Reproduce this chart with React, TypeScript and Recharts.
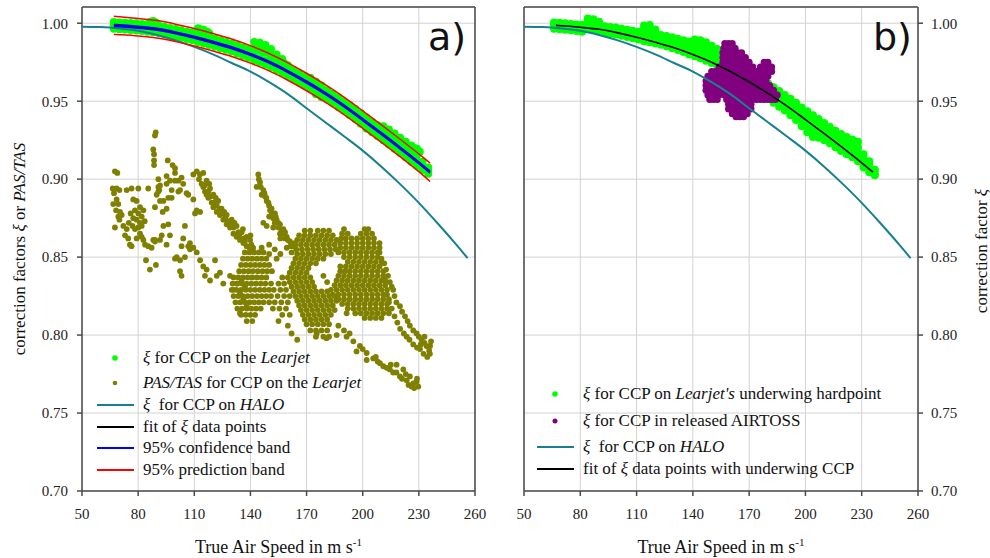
import React from 'react';
import { ComposedChart, Scatter, XAxis, YAxis, CartesianGrid } from 'recharts';

// axes
const tasTicks = [50, 80, 110, 140, 170, 200, 230, 260];
const xiTicks = [0.7, 0.75, 0.8, 0.85, 0.9, 0.95, 1.0];

// fit of xi data points (Learjet) + bands
const fitTas = [67, 70, 80, 90, 100, 110, 120, 130, 140, 150, 160, 170, 180, 190, 200, 210, 220, 230, 236];
const fitXi = [.9986, .9984, .9974, .9961, .9938, .9910, .9878, .9843, .9800, .9750, .9690, .9623, .9550, .9470, .9382, .9292, .9200, .9105, .9045];
const confUpper = [.9992, .9990, .9980, .9967, .9944, .9916, .9884, .9849, .9806, .9756, .9696, .9629, .9556, .9476, .9388, .9298, .9206, .9111, .9052];
const confLower = [.9980, .9978, .9968, .9955, .9932, .9904, .9872, .9837, .9794, .9744, .9684, .9617, .9544, .9464, .9376, .9286, .9194, .9099, .9038];
const predUpper = [1.0044, 1.0041, 1.0030, 1.0017, .9994, .9966, .9934, .9899, .9856, .9806, .9746, .9679, .9606, .9526, .9438, .9348, .9256, .9162, .9103];
const predLower = [.9928, .9926, .9918, .9905, .9882, .9854, .9822, .9787, .9744, .9694, .9634, .9567, .9494, .9414, .9326, .9236, .9144, .9048, .8985];

// xi for CCP on HALO
const haloTas = [50, 60, 70, 80, 90, 100, 110, 120, 130, 140, 150, 160, 170, 180, 190, 200, 210, 220, 230, 240, 250, 256];
const haloXi = [.9978, .9975, .9966, .9952, .9925, .9890, .9848, .9800, .9745, .9690, .9622, .9545, .9455, .9365, .9275, .9183, .9080, .8968, .8848, .8717, .8580, .8494];

// xi for CCP on the Learjet (panel a): [tas, values...]
const xiLearjetA: number[][] = [
  [67, 1.0008, .9986, .9965], [70, 1.0005, .9984, .9962], [73, 1.0003, .9981, .9960], [76, 1.0002, .9978, .9957],
  [79, 1.0000, .9975, .9953], [82, .9995, .9972, .9950], [85, .9993, .9968, .9945], [88, 1.0015, .9990, .9964, .9942],
  [91, .9985, .9959, .9937], [94, .9978, .9952, .9930], [97, .9970, .9945, .9922], [100, .9963, .9938, .9915],
  [103, .9955, .9930, .9907], [106, .9946, .9921, .9898], [109, .9940, .9913, .9890], [112, .9968, .9936, .9904, .9880],
  [115, .9958, .9926, .9894, .9870], [118, .9935, .9910, .9884, .9860], [121, .9902, .9875, .9850], [124, .9890, .9864, .9840],
  [127, .9880, .9854, .9830], [130, .9870, .9843, .9818], [133, .9858, .9830, .9805], [136, .9845, .9817, .9792],
  [139, .9835, .9804, .9778], [142, .9880, .9835, .9790, .9762], [145, .9875, .9825, .9775, .9748], [148, .9860, .9810, .9760, .9733],
  [151, .9835, .9790, .9744, .9717], [154, .9800, .9765, .9726, .9700], [157, .9770, .9740, .9708, .9680], [160, .9730, .9690, .9662],
  [163, .9700, .9670, .9642], [166, .9680, .9650, .9620], [169, .9660, .9630, .9600], [172, .9650, .9630, .9609, .9578],
  [175, .9625, .9587, .9545], [178, .9600, .9565, .9525], [181, .9572, .9542, .9510], [184, .9548, .9518, .9488],
  [187, .9525, .9494, .9462], [190, .9500, .9470, .9438], [193, .9475, .9444, .9412], [196, .9450, .9418, .9385],
  [199, .9422, .9391, .9355], [202, .9395, .9364, .9325], [205, .9368, .9337, .9300], [208, .9345, .9310, .9275],
  [211, .9340, .9312, .9283, .9250], [214, .9318, .9287, .9255, .9222], [217, .9292, .9260, .9228, .9195], [220, .9265, .9233, .9200, .9168],
  [223, .9240, .9206, .9172, .9140], [226, .9215, .9180, .9143, .9112], [229, .9195, .9155, .9114, .9085], [232, .9112, .9085, .9058],
  [235, .9075, .9055, .9035],
];
const xiLearjetAExtra: number[][] = [
  [86.5, 1.0010], [89.5, 1.0005], [114, .9960], [117, .9945], [144, .9860], [147, .9850], [150, .9825],
  [153, .9790], [155, .9765], [158, .9745], [230.5, .9175], [227.5, .9200],
];

// xi for CCP on Learjet's underwing hardpoint (panel b): [tas, values...]
const xiUnderwing: number[][] = [
  [66, 1.0005, .9985, .9965], [69, 1.0003, .9982, .9962], [72, 1.0000, .9978, .9958], [75, .9995, .9975, .9955],
  [78, .9992, .9972, .9950], [81, .9990, .9968, .9946], [84, 1.0030, 1.0005, .9985, .9965], [87, 1.0025, .9995, .9978, .9960],
  [90, 1.0010, .9975, .9952], [93, .9980, .9960, .9940], [96, .9975, .9955, .9933], [99, .9972, .9950, .9928],
  [102, .9965, .9942, .9920], [105, .9958, .9935, .9912], [108, .9952, .9928, .9903], [111, .9945, .9920, .9895],
  [114, .9985, .9965, .9950, .9920, .9885], [117, .9988, .9968, .9945, .9910, .9878], [120, .9960, .9940, .9920, .9895, .9870],
  [123, .9925, .9895, .9862], [126, .9918, .9885, .9852], [129, .9910, .9875, .9840], [132, .9900, .9865, .9828],
  [135, .9890, .9852, .9815], [138, .9882, .9840, .9800], [141, .9895, .9870, .9848, .9818, .9788],
  [144, .9890, .9865, .9840, .9808, .9775], [147, .9878, .9850, .9825, .9792, .9760], [150, .9855, .9828, .9800, .9772, .9745],
  [153, .9835, .9808, .9780, .9752, .9725], [156, .9815, .9785, .9755, .9730, .9705], [159, .9790, .9762, .9735, .9710, .9685],
  [162, .9765, .9738, .9712, .9686, .9660], [165, .9745, .9718, .9690, .9665, .9640], [168, .9720, .9692, .9665, .9640, .9615],
  [171, .9695, .9668, .9640, .9615, .9590], [174, .9670, .9642, .9615, .9590, .9565], [177, .9640, .9615, .9590, .9565, .9540],
  [180, .9615, .9588, .9560, .9538, .9515], [183, .9590, .9565, .9540, .9515, .9490], [186, .9565, .9540, .9515, .9490, .9465],
  [189, .9540, .9515, .9490, .9465, .9440], [192, .9515, .9490, .9465, .9438, .9410], [195, .9490, .9465, .9440, .9410, .9380],
  [198, .9460, .9435, .9410, .9375, .9340], [201, .9435, .9405, .9375, .9338, .9300], [204, .9410, .9380, .9350, .9310, .9270],
  [207, .9385, .9358, .9330, .9298, .9265], [210, .9360, .9332, .9305, .9278, .9250], [213, .9335, .9308, .9280, .9255, .9230],
  [216, .9310, .9282, .9255, .9230, .9205], [219, .9290, .9260, .9230, .9205, .9180], [222, .9270, .9240, .9210, .9185, .9160],
  [225, .9255, .9222, .9190, .9165, .9140], [228, .9240, .9205, .9170, .9142, .9115], [231, .9160, .9135, .9110, .9092, .9075],
  [234, .9115, .9095, .9075, .9060, .9045], [237, .9060, .9040, .9025],
];

// xi for CCP in released AIRTOSS: rows of [xi, tas values]
const xiAirtoss: [number, number[]][] = [
  [.987, [157, 159, 161]],
  [.984, [156.5, 158.5, 160.5, 162.5]],
  [.981, [156, 158, 160, 162, 164, 166]],
  [.978, [156, 158, 160, 162, 164, 166, 168]],
  [.975, [156, 158, 160, 162, 164, 166, 168, 170, 178, 180]],
  [.972, [154, 156, 158, 160, 162, 164, 166, 168, 170, 172, 176, 178, 180, 182]],
  [.969, [150, 152, 154, 156, 158, 160, 162, 164, 166, 168, 170, 172, 174, 176, 178, 180, 182]],
  [.966, [148, 150, 152, 154, 156, 158, 160, 162, 164, 166, 168, 170, 172, 174, 176, 178, 180]],
  [.963, [147, 149, 151, 153, 155, 157, 159, 161, 163, 165, 167, 169, 171, 173, 175, 177, 179]],
  [.960, [147, 149, 151, 153, 155, 157, 159, 161, 163, 165, 167, 169, 171, 173, 175, 177, 179, 181]],
  [.957, [147, 149, 151, 153, 155, 157, 159, 161, 163, 165, 167, 169, 171, 173, 175, 177, 179, 181, 183]],
  [.954, [148, 150, 152, 154, 157, 159, 161, 163, 165, 167, 169, 171, 173, 175, 177, 179, 181, 183, 185]],
  [.951, [149, 151, 153, 158, 160, 162, 164, 166, 168, 170, 172, 174, 176, 178, 180, 182, 184]],
  [.948, [159, 161, 163, 165, 167, 169, 171]],
  [.945, [159, 161, 163, 165, 167, 169, 171]],
  [.942, [161, 163, 165, 167, 169]],
  [.940, [163, 165, 167]],
];

// PAS/TAS for CCP on the Learjet, scattered part: [tas, ratio]
const pasTasLoose: number[][] = [
  [89.4, .930], [89.0, .928], [88.1, .919], [88.5, .916], [88.5, .912], [88.5, .909], [95.8, .912], [67.6, .905], [68.9, .904],
  [98.4, .909], [99.7, .907], [99.7, .904], [95.2, .902], [90.8, .900], [91.7, .896], [91.3, .893], [90.8, .892], [85.4, .894],
  [80.1, .894], [76.5, .894], [73.9, .893], [66.4, .894], [68.5, .894], [70, .893], [67.1, .891], [68.5, .887], [69.4, .884],
  [66.7, .884], [68.2, .880], [70.3, .879], [71.2, .877], [69.4, .876], [70, .874], [67.6, .869], [72.1, .870], [73.9, .868],
  [73, .864], [74.7, .862], [75.6, .858], [76.5, .857], [77.4, .887], [79.2, .886], [81, .882], [78.3, .880], [80.1, .878],
  [81.9, .876], [77.4, .875], [79.2, .874], [81, .872], [81.9, .870], [80.1, .869], [78.3, .868], [81, .865], [81.9, .863],
  [79.2, .862], [82.8, .880], [76, .878], [75, .872], [77, .870], [83.5, .873], [82.8, .861], [83.7, .858], [87.2, .856],
  [85.4, .857], [89, .861], [84.2, .848], [86.3, .842], [89.5, .845], [90.8, .895], [89.9, .890], [91.7, .886], [89, .882],
  [93.1, .879], [95.2, .897], [97, .899], [97.9, .893], [96.1, .888], [97.9, .888], [93.5, .886], [95.2, .881], [99.7, .899],
  [101.5, .899], [103.2, .901], [104.1, .897], [105.9, .891], [106.8, .890], [102.4, .893], [101.5, .892], [93.5, .870],
  [96.1, .871], [92.6, .864], [97, .864], [95.2, .858], [91.7, .861], [89, .860], [88.1, .861], [105, .870], [104.1, .862],
  [106.8, .857], [107.7, .855], [103.2, .857], [105, .850], [100.6, .850], [102.4, .848], [99.7, .849], [103.2, .838],
  [102.4, .841], [107.7, .859], [109.5, .856], [109.5, .887], [111.3, .880], [110.4, .878], [113.1, .879], [109.5, .903],
  [111.3, .905], [114.8, .904], [111.3, .853], [113.1, .848], [114.8, .844], [116.6, .842], [115.7, .838], [118.4, .835],
  [122, .838], [121.1, .848], [123.7, .840], [125.5, .833], [129.1, .838], [130.9, .829], [132.6, .833], [134.4, .827],
  [135.3, .835], [136.2, .823], [138, .818], [137.1, .831], [134.4, .814], [160, .806], [155, .809], [165, .797], [162, .801],
  [191.4, .814], [179, .838], [181, .834],
];

// strands of PAS/TAS points
const pasTasStrands: number[][] = [
  [113.9, .897], [114.8, .895], [115.7, .892], [116.6, .890], [117.5, .888], [119.3, .885], [120.2, .882], [122, .879],
  [123.7, .877], [125.5, .874], [127.3, .871], [129.1, .869], [130.9, .865], [132.6, .863], [134.4, .861], [136.2, .859],
  [138, .857], [139.8, .855], [116.6, .899], [118.4, .894], [120.2, .890], [122.8, .886], [124.6, .881], [127.3, .877],
  [130, .874], [132.6, .870], [135.3, .866], [138, .863], [139.8, .861], [115.5, .896], [117.5, .892], [119, .889],
  [121, .885], [122, .883], [123.5, .881], [125, .878], [126.5, .875], [128, .873], [129, .872], [131, .869], [133.5, .866],
  [134, .864], [136.5, .862], [137, .860], [140.5, .858], [141.5, .856], [112.5, .900], [113, .903], [118, .897],
  [121.5, .888], [126, .879], [131.5, .872], [136, .868], [140, .864],
  [144.2, .903], [145.1, .898], [146.9, .893], [147.8, .889], [149.6, .885], [151.3, .881], [153.1, .878], [154, .874],
  [155.8, .871], [157.6, .868], [159.4, .863], [161.1, .860], [162.9, .857], [143.3, .895], [146, .890], [148.7, .886],
  [150.5, .880], [152.2, .875], [154.9, .872], [156.7, .867], [158.5, .862], [146.9, .872], [148.7, .870], [152.2, .869],
  [155.8, .865], [159.4, .856], [144.5, .900], [145.5, .895], [147.5, .891], [148.5, .888], [150, .883], [151.5, .878],
  [153.5, .876], [155, .869], [157, .865], [158.5, .866], [160, .861], [161.5, .857], [163.5, .859], [150, .876],
  [153, .872], [156, .862], [162, .853], [146, .856], [150, .858], [153, .855], [156, .852], [150, .852], [154, .849],
  [209, .853], [210, .849], [211.5, .846], [212.5, .842], [213.5, .838], [214.5, .834], [215.5, .831], [216.3, .829],
  [217, .825], [218, .821], [219.9, .8185], [221, .815], [222.6, .812], [224, .809], [225.2, .806], [227, .803],
  [228.8, .801], [230, .799], [231.5, .797], [233, .795], [234.1, .793], [235.5, .790], [235.9, .788], [236.5, .796],
  [234.5, .786], [232.5, .788], [230.6, .791], [229, .792], [227, .794], [225, .797], [223.5, .799], [222, .801],
  [220, .804], [218.5, .808], [217, .812], [215.5, .817], [214, .821], [213, .826], [236, .793], [233, .799], [231, .794],
  [191.4, .799], [195, .796], [198.5, .793], [202.1, .7885], [205.6, .785], [209.2, .782], [212.8, .779], [216.3, .776],
  [219.9, .7735], [223.5, .771], [227, .769], [229.7, .767], [225.2, .7735], [221.7, .778], [218.1, .781], [202.1, .784],
  [196.7, .7895], [226.1, .767], [228.8, .770], [193, .801], [200, .791], [207, .786], [211, .780], [214.5, .778],
  [218, .776], [221, .772], [224.5, .768], [227.5, .766], [229, .772], [223, .775], [215, .781], [208, .783], [190, .803],
  [187, .806], [175.4, .801], [180.7, .798], [186.1, .800],
];

// dense PAS/TAS clusters: rows of [ratio, tas values]
const pasTasClusters: [number, number[]][] = [
  // between strand A and the 140 m/s cluster
  [.853, [137, 139.5, 142, 144.5, 147]],
  [.849, [136, 138.5, 141, 143.5, 146, 148.5]],
  [.845, [135, 137.5, 140, 142.5, 145, 147.5, 150]],
  [.841, [134, 136.5, 139, 141.5, 144, 146.5, 149, 151.5]],
  [.837, [131, 133.5, 136, 138.5, 141, 143.5, 146, 148.5, 157]],
  [.833, [130.5, 133, 135.5, 138, 140.5, 143, 145.5, 148, 151, 155, 158]],
  [.829, [130, 132.5, 135, 137.5, 140, 142.5, 145, 147.5, 150, 152.5, 156, 159]],
  [.825, [131, 133.5, 136, 138.5, 141, 143.5, 146, 148.5, 151, 154.5, 158, 161]],
  [.821, [132, 134.5, 137, 139.5, 142, 144.5, 147, 150, 153, 156.5, 160]],
  [.817, [133, 135.5, 138, 140.5, 143, 145.5, 152, 155.5, 159]],
  [.813, [135, 137.5, 140, 142.5, 157, 161]],
  [.809, [138, 141]],
  // cluster around 175 m/s
  [.867, [169, 172, 176, 179, 182]],
  [.864, [166, 169, 172, 175, 178, 181, 184]],
  [.861, [165, 168, 171, 174, 177, 180, 183, 186]],
  [.858, [164, 167, 170, 173, 176, 179, 182, 185]],
  [.855, [164.5, 167.5, 170.5, 173.5, 176.5, 179.5, 182.5, 185.5]],
  [.852, [165, 168, 171, 174, 177, 180, 183]],
  [.849, [164, 167, 170, 173, 176, 179]],
  [.846, [163, 166, 169, 172, 175]],
  [.843, [162, 165, 168, 171]],
  [.840, [161, 164, 167, 170]],
  [.837, [160, 163, 166, 169, 172]],
  [.834, [161, 164, 167, 170, 173]],
  [.831, [162, 165, 168, 171, 174]],
  [.828, [163, 166, 169, 172, 175, 178, 181]],
  [.825, [164, 167, 170, 173, 176, 179, 182, 185]],
  [.822, [165, 168, 171, 174, 177, 180, 183, 186]],
  [.819, [166, 169, 172, 175, 178, 181, 184]],
  [.816, [167, 170, 173, 176, 179, 182, 185]],
  [.813, [168, 171, 174, 177, 180, 183]],
  [.810, [169, 172, 175, 178, 181]],
  [.807, [170, 173, 176, 179, 182]],
  [.803, [172, 175, 178, 181]],
  [.799, [175, 179, 182]],
  // cluster around 200 m/s
  [.868, [190, 201, 203]],
  [.865, [189, 192, 199, 202, 205]],
  [.862, [188.5, 191, 194, 197, 200, 203, 206]],
  [.859, [188, 191, 194, 197, 200, 203, 206, 209]],
  [.856, [188, 191, 194, 197, 200, 203, 206, 209]],
  [.853, [187, 190, 193, 196, 199, 202, 205, 208]],
  [.850, [190, 193, 196, 199, 202, 205, 208]],
  [.847, [192, 195, 198, 201, 204, 207, 210]],
  [.844, [188, 191, 194, 197, 200, 203, 206, 209]],
  [.841, [188, 190.5, 193, 196, 199, 202, 205, 208, 211]],
  [.838, [187, 190, 193, 196, 199, 202, 205, 208, 211]],
  [.835, [186, 189, 192, 195, 198, 201, 204, 207, 210, 212]],
  [.832, [185, 188, 191, 194, 197, 200, 203, 206, 209, 212]],
  [.829, [183, 186, 189, 192, 195, 198, 201, 204, 207, 210, 213]],
  [.826, [184, 187, 190, 193, 196, 199, 202, 205, 208, 211]],
  [.823, [187, 190, 193, 196, 199, 202, 205, 208, 211, 214]],
  [.820, [189, 192, 195, 198, 201, 204, 207, 210, 213]],
  [.817, [192, 195, 198, 201, 204, 207, 210, 213]],
  [.814, [196, 199, 202, 205, 208, 211, 214]],
  [.811, [201, 204, 207, 210]],
];

const GREEN = '#00ff00';
const OLIVE = '#808000';
const PURPLE = '#800080';
const TEAL = '#17808e';
const FRAME = '#4a4a4a';
const GRID = '#d2d2d2';
const FONT = "'Liberation Serif', 'DejaVu Serif', serif";

const toPoints = (tas: number[], xi: number[]) => tas.map((t, i) => ({ tas: t, xi: xi[i] }));
const fromPairs = (pairs: number[][]) => pairs.map(([tas, xi]) => ({ tas, xi }));
const fromBand = (rows: number[][]) => rows.flatMap(([tas, ...vals]) => vals.map(xi => ({ tas, xi })));
const fromRows = (rows: [number, number[]][]) => rows.flatMap(([xi, list]) => list.map(tas => ({ tas, xi })));

const fitLine = toPoints(fitTas, fitXi);
const confUpLine = toPoints(fitTas, confUpper);
const confLowLine = toPoints(fitTas, confLower);
const predUpLine = toPoints(fitTas, predUpper);
const predLowLine = toPoints(fitTas, predLower);
const haloLine = toPoints(haloTas, haloXi);
const greenA = [...fromBand(xiLearjetA), ...fromPairs(xiLearjetAExtra)];
const greenB = fromBand(xiUnderwing);
const purpleB = fromRows(xiAirtoss);
const oliveA = [...fromPairs(pasTasLoose), ...fromPairs(pasTasStrands), ...fromRows(pasTasClusters)];

const dot = (color: string, r: number) => (p: any) => <circle cx={p.cx} cy={p.cy} r={r} fill={color} />;
const noDot = () => <g />;

// curves drawn as joined scatter so they sit above the point clouds
function curve(data: { tas: number; xi: number }[], color: string, width: number) {
  return (
    <Scatter
      data={data}
      line={{ stroke: color, strokeWidth: width, fill: 'none' }}
      lineType="joint"
      lineJointType="monotoneX"
      shape={noDot}
      fill="none"
      isAnimationActive={false}
    />
  );
}

const tickStyle = { fontFamily: FONT, fontSize: 15, fill: '#222' };
const fmt = (v: number) => v.toFixed(2);

function Panel({ side }: { side: 'a' | 'b' }) {
  const isA = side === 'a';
  const margin = isA ? { top: 7, right: 20, bottom: 0, left: 0 } : { top: 7, right: 0, bottom: 0, left: 29 };
  return (
    <ComposedChart width={495} height={558} margin={margin}>
      <CartesianGrid stroke={GRID} strokeWidth={1} />
      <XAxis
        dataKey="tas"
        type="number"
        domain={[50, 260]}
        ticks={tasTicks}
        height={67}
        tickSize={5}
        tickMargin={12}
        stroke={FRAME}
        strokeWidth={1.5}
        tick={tickStyle}
        allowDataOverflow
      />
      <XAxis
        xAxisId="top"
        orientation="top"
        mirror
        dataKey="tas"
        type="number"
        domain={[50, 260]}
        ticks={tasTicks}
        tickSize={5}
        tick={false}
        stroke={FRAME}
        strokeWidth={1.5}
        allowDataOverflow
      />
      <YAxis
        dataKey="xi"
        type="number"
        domain={[0.7, 1.0104]}
        ticks={xiTicks}
        orientation={isA ? 'left' : 'right'}
        width={isA ? 82 : 72}
        tickSize={5}
        tickMargin={isA ? 9 : 8}
        tickFormatter={fmt}
        stroke={FRAME}
        strokeWidth={1.5}
        tick={tickStyle}
        allowDataOverflow
      />
      <YAxis
        yAxisId="mirror"
        dataKey="xi"
        type="number"
        domain={[0.7, 1.0104]}
        ticks={xiTicks}
        orientation={isA ? 'right' : 'left'}
        mirror
        width={30}
        tickSize={5}
        tick={false}
        stroke={FRAME}
        strokeWidth={1.5}
        allowDataOverflow
      />
      {isA && <Scatter data={oliveA} fill={OLIVE} shape={dot(OLIVE, 2.9)} isAnimationActive={false} />}
      {isA && <Scatter data={greenA} fill={GREEN} shape={dot(GREEN, 4)} isAnimationActive={false} />}
      {!isA && <Scatter data={greenB} fill={GREEN} shape={dot(GREEN, 4)} isAnimationActive={false} />}
      {!isA && <Scatter data={purpleB} fill={PURPLE} shape={dot(PURPLE, 3.5)} isAnimationActive={false} />}
      {curve(haloLine, TEAL, 2)}
      {curve(fitLine, '#000', 1.6)}
      {isA && curve(confUpLine, '#0000ff', 1.6)}
      {isA && curve(confLowLine, '#0000ff', 1.6)}
      {isA && curve(predUpLine, '#ff0000', 1.5)}
      {isA && curve(predLowLine, '#ff0000', 1.5)}
    </ComposedChart>
  );
}

type Part = [string, boolean];
type LegendRow = { y: number; color: string; kind: 'dot' | 'line'; r?: number; parts: Part[] };

const legendA: LegendRow[] = [
  { y: 358, color: GREEN, kind: 'dot', r: 2.8, parts: [['ξ', true], [' for CCP on the ', false], ['Learjet', true]] },
  { y: 383, color: OLIVE, kind: 'dot', r: 2.3, parts: [['PAS/TAS', true], [' for CCP on the ', false], ['Learjet', true]] },
  { y: 405, color: TEAL, kind: 'line', parts: [['ξ', true], ['\u00a0 for CCP on ', false], ['HALO', true]] },
  { y: 427, color: '#000', kind: 'line', parts: [['fit of ', false], ['ξ', true], [' data points', false]] },
  { y: 448, color: '#0000ff', kind: 'line', parts: [['95% confidence band', false]] },
  { y: 470, color: '#ff0000', kind: 'line', parts: [['95% prediction band', false]] },
];
const legendB: LegendRow[] = [
  { y: 394, color: GREEN, kind: 'dot', r: 2.8, parts: [['ξ', true], [' for CCP on ', false], ["Learjet's", true], [' underwing hardpoint', false]] },
  { y: 421, color: PURPLE, kind: 'dot', r: 2.5, parts: [['ξ', true], [' for CCP in released AIRTOSS', false]] },
  { y: 447, color: TEAL, kind: 'line', parts: [['ξ', true], ['\u00a0 for CCP on ', false], ['HALO', true]] },
  { y: 469, color: '#000', kind: 'line', parts: [['fit of ', false], ['ξ', true], [' data points with underwing CCP', false]] },
];

function LegendBlock({ rows, x }: { rows: LegendRow[]; x: number }) {
  return (
    <g>
      {rows.map((row, i) => (
        <g key={i}>
          {row.kind === 'dot' ? (
            <circle cx={x + 18} cy={row.y} r={row.r} fill={row.color} />
          ) : (
            <line x1={x} x2={x + 37} y1={row.y} y2={row.y} stroke={row.color} strokeWidth={2} />
          )}
          <text x={x + 46} y={row.y + 5} style={{ fontFamily: FONT, fontSize: 17 }} fill="#111">
            {row.parts.map(([s, it], j) => (
              <tspan key={j} fontStyle={it ? 'italic' : 'normal'} style={{ whiteSpace: 'pre' }}>{s}</tspan>
            ))}
          </text>
        </g>
      ))}
    </g>
  );
}

function AxisTitle({ cx }: { cx: number }) {
  return (
    <text x={cx} y={553} textAnchor="middle" style={{ fontFamily: FONT, fontSize: 18 }} fill="#111">
      True Air Speed in m s<tspan fontSize={11} dy={-7}>-1</tspan>
    </text>
  );
}

export default function App() {
  return (
    <div style={{ position: 'absolute', left: 0, top: 0, width: 990, height: 558, background: '#fff', fontFamily: FONT }}>
      <div style={{ position: 'absolute', left: 0, top: 0 }}>
        <Panel side="a" />
      </div>
      <div style={{ position: 'absolute', left: 495, top: 0 }}>
        <Panel side="b" />
      </div>
      <svg width={990} height={558} style={{ position: 'absolute', left: 0, top: 0, pointerEvents: 'none' }}>
        <text x={428} y={50} style={{ fontFamily: "'DejaVu Sans', sans-serif", fontSize: 38 }} fill="#111">a)</text>
        <text x={873} y={50} style={{ fontFamily: "'DejaVu Sans', sans-serif", fontSize: 38 }} fill="#111">b)</text>
        <text transform="translate(25,249) rotate(-90)" textAnchor="middle" style={{ fontFamily: FONT, fontSize: 17 }} fill="#111">
          correction factors <tspan fontStyle="italic">ξ</tspan> or <tspan fontStyle="italic">PAS/TAS</tspan>
        </text>
        <text transform="translate(987,251) rotate(-90)" textAnchor="middle" style={{ fontFamily: FONT, fontSize: 17 }} fill="#111">
          correction factor <tspan fontStyle="italic">ξ</tspan>
        </text>
        <AxisTitle cx={278.5} />
        <AxisTitle cx={721} />
        <LegendBlock rows={legendA} x={97} />
        <LegendBlock rows={legendB} x={537} />
      </svg>
    </div>
  );
}
